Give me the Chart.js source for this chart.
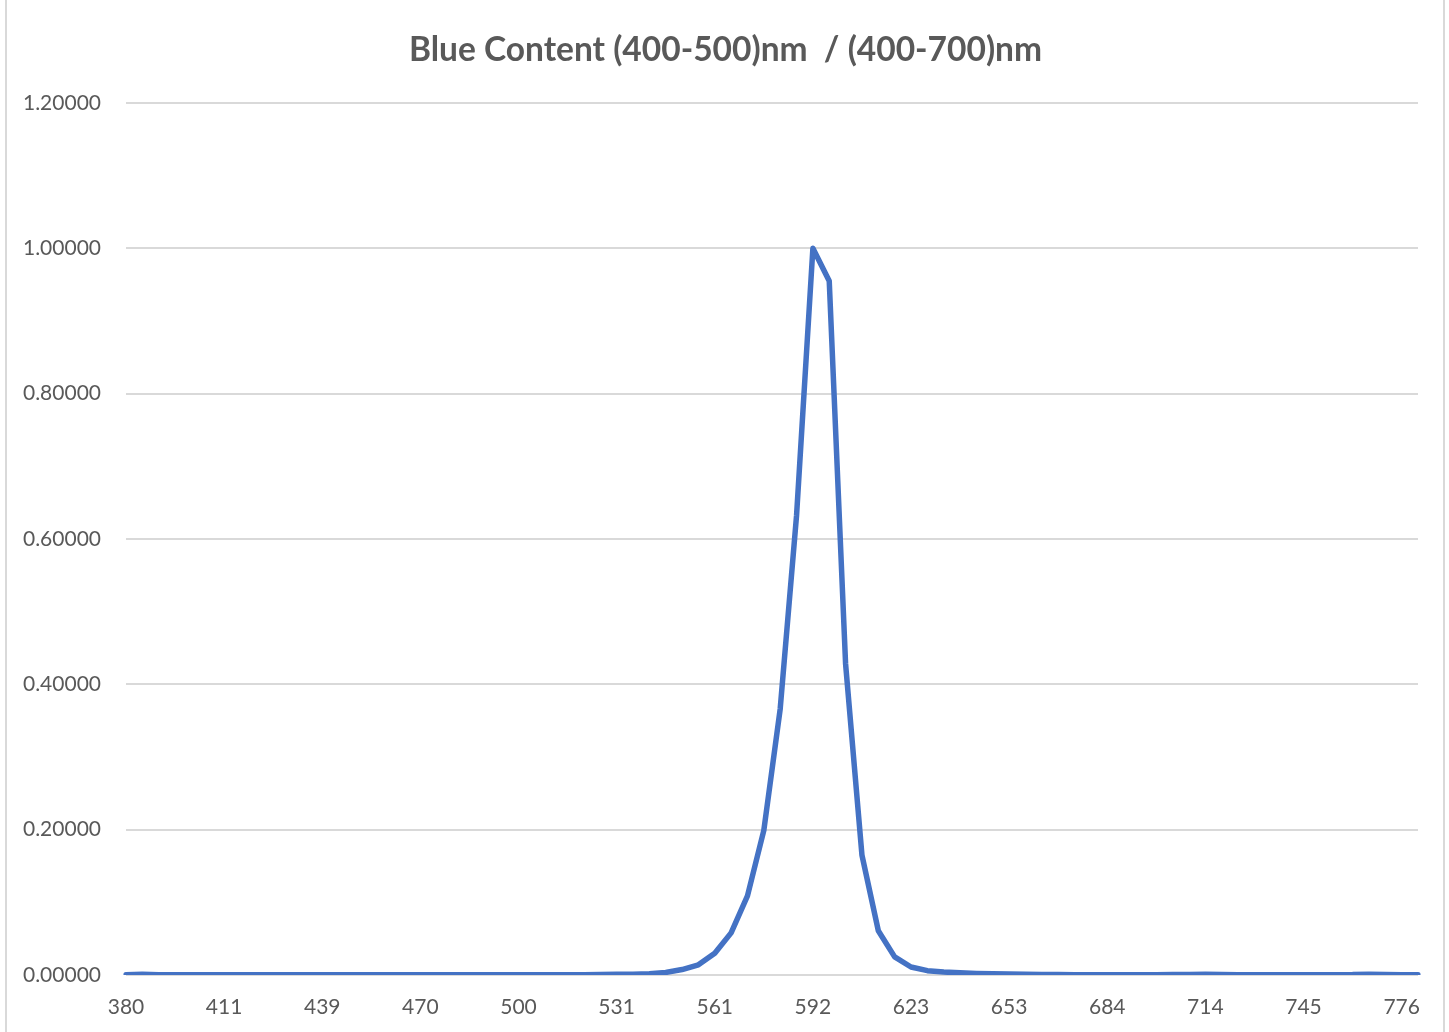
<!DOCTYPE html>
<html>
<head>
<meta charset="utf-8">
<script src="https://cdn.jsdelivr.net/npm/chart.js@4.4.1/dist/chart.umd.min.js"></script>
<style>
  html, body { margin: 0; padding: 0; background: #ffffff; }
  #wrap { position: relative; width: 1449px; height: 1032px; }
  canvas { display: block; }
</style>
</head>
<body>
<div id="wrap"><canvas id="c" width="1449" height="1032"></canvas></div>
<script>
const chartTitle = "Blue Content (400-500)nm  / (400-700)nm";

const wavelengths = [
  380, 385, 390, 396, 401, 406,
  411, 416, 420, 425, 430, 434,
  439, 444, 449, 454, 460, 465,
  470, 475, 480, 485, 490, 495,
  500, 505, 510, 516, 521, 526,
  531, 536, 541, 546, 551, 556,
  561, 566, 571, 576, 582, 587,
  592, 597, 602, 607, 612, 618,
  623, 628, 633, 638, 643, 648,
  653, 658, 663, 669, 674, 679,
  684, 689, 694, 699, 704, 709,
  714, 719, 724, 730, 735, 740,
  745, 750, 755, 760, 765, 771,
  776, 781
];

const blueContent = [
  0.0005, 0.0012, 0.0004, 0.0003, 0.0003, 0.0003,
  0.0003, 0.0003, 0.0003, 0.0003, 0.0003, 0.0003,
  0.0003, 0.0003, 0.0003, 0.0003, 0.0003, 0.0003,
  0.0003, 0.0003, 0.0003, 0.0003, 0.0003, 0.0003,
  0.0003, 0.0003, 0.0003, 0.0004, 0.0005, 0.0007,
  0.0010, 0.0012, 0.0018, 0.0035, 0.0075, 0.0140,
  0.0300, 0.0580, 0.1090, 0.1990, 0.3660, 0.6320,
  1.0000, 0.9550, 0.4280, 0.1650, 0.0610, 0.0250,
  0.0110, 0.0060, 0.0040, 0.0030, 0.0022, 0.0018,
  0.0015, 0.0010, 0.0008, 0.0006, 0.0005, 0.0005,
  0.0005, 0.0005, 0.0005, 0.0005, 0.0006, 0.0008,
  0.0012, 0.0008, 0.0005, 0.0005, 0.0005, 0.0005,
  0.0005, 0.0005, 0.0005, 0.0006, 0.0012, 0.0006,
  0.0004, 0.0003
];

const yTicks = [0, 0.2, 0.4, 0.6, 0.8, 1.0, 1.2];
const labelEvery = 6;

const textColor = '#595959';
const gridColor = '#d9d9d9';
const fontFamily = "Lato, 'Open Sans', 'Noto Sans', sans-serif";

const framePlugin = {
  id: 'frameAndTitle',
  afterDraw(chart) {
    const ctx = chart.ctx;
    ctx.save();
    ctx.strokeStyle = gridColor;
    ctx.lineWidth = 2;
    ctx.beginPath();
    ctx.moveTo(6, 0); ctx.lineTo(6, 1032);
    ctx.moveTo(1444, 0); ctx.lineTo(1444, 1032);
    ctx.stroke();
    ctx.fillStyle = textColor;
    ctx.font = "bold 33.5px " + fontFamily;
    ctx.textAlign = 'center';
    ctx.textBaseline = 'middle';
    ctx.fillText(chartTitle, 725.5, 50);
    ctx.restore();
  }
};

new Chart(document.getElementById('c'), {
  type: 'line',
  data: {
    labels: wavelengths,
    datasets: [{
      label: 'Blue Content',
      data: blueContent,
      borderColor: '#4472C4',
      backgroundColor: '#4472C4',
      borderWidth: 5.5,
      pointRadius: 0,
      tension: 0,
      borderCapStyle: 'round',
      borderJoinStyle: 'round',
      fill: false
    }]
  },
  options: {
    responsive: false,
    animation: false,
    devicePixelRatio: 1,
    layout: { padding: { left: 0, right: 31, top: 103, bottom: 0 } },
    plugins: {
      legend: { display: false },
      tooltip: { enabled: false },
      title: { display: false }
    },
    scales: {
      x: {
        type: 'category',
        offset: false,
        grid: { display: false, drawTicks: false },
        border: { display: false },
        afterFit(scale) { scale.height = 57; },
        ticks: {
          autoSkip: false,
          maxRotation: 0,
          minRotation: 0,
          padding: 20,
          color: textColor,
          font: { family: fontFamily, size: 21 },
          callback(value, index) {
            return index % labelEvery === 0 ? String(wavelengths[index]) : '';
          }
        }
      },
      y: {
        min: 0,
        max: 1.2,
        afterFit(scale) { scale.width = 126; },
        afterBuildTicks(scale) { scale.ticks = yTicks.map(v => ({ value: v })); },
        grid: { color: gridColor, lineWidth: 2, drawTicks: false },
        border: { display: false },
        ticks: {
          padding: 25,
          color: textColor,
          font: { family: fontFamily, size: 21 },
          callback(value) { return Number(value).toFixed(5); }
        }
      }
    }
  },
  plugins: [framePlugin]
});
</script>
</body>
</html>
